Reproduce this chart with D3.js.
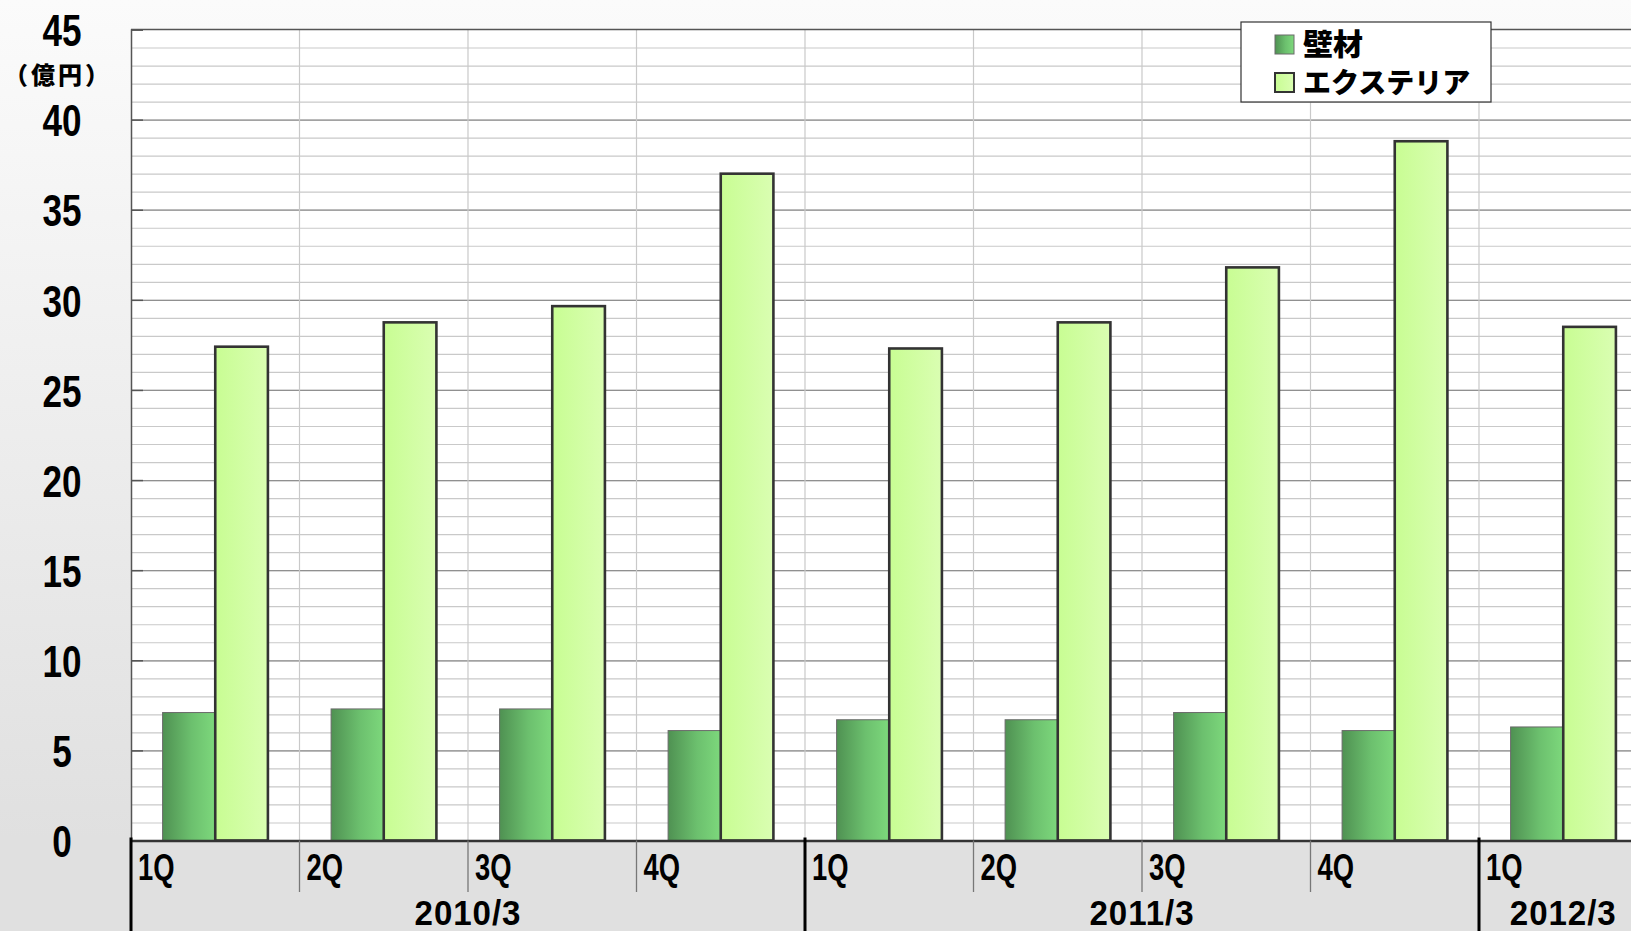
<!DOCTYPE html>
<html>
<head>
<meta charset="utf-8">
<script src="https://cdn.jsdelivr.net/npm/d3@7"></script>
<style>
  body { margin: 0; padding: 0; overflow: hidden; }
  .num { font-family: "Liberation Sans", Arial, sans-serif; font-weight: bold; }
  .jp { font-family: "Noto Sans CJK JP", sans-serif; font-weight: 900; }
</style>
</head>
<body>
<svg id="chart" width="1631" height="931"></svg>
<script>
// quarters along the bottom, one per bar pair
const quarters = ["1Q", "2Q", "3Q", "4Q", "1Q", "2Q", "3Q", "4Q", "1Q"];
const yearLabels = ["2010/3", "2011/3", "2012/3"];
const yearOfQuarter = [0, 0, 0, 0, 1, 1, 1, 1, 2];
const seriesNames = ["壁材", "エクステリア"];
const wallValues = [7.1, 7.3, 7.3, 6.1, 6.7, 6.7, 7.1, 6.1, 6.3];
const exteriorValues = [27.4, 28.75, 29.65, 37.0, 27.3, 28.75, 31.8, 38.8, 28.5];
const yTicks = [0, 5, 10, 15, 20, 25, 30, 35, 40, 45];

let svg = d3.select("#chart");
let W = 1631, H = 931;
let plotLeft = 131, plotTop = 29.5, plotBottom = 840.5;
let catW = 168.5;
let plotW = catW * quarters.length;

// squeeze text horizontally, the original uses a condensed gothic face
function condense(sel, sx) {
    sel.each(function () {
        let t = d3.select(this);
        let tx = +t.attr("x") || 0, ty = +t.attr("y") || 0;
        t.attr("x", 0).attr("y", 0)
            .attr("transform", "translate(" + tx + "," + ty + ") scale(" + sx + ",1)");
    });
}

let defs = svg.append("defs");
let bg = defs.append("linearGradient").attr("id", "bg").attr("x1", 0).attr("y1", 0).attr("x2", 0).attr("y2", 1);
bg.append("stop").attr("offset", "0%").attr("stop-color", "#fbfbfb");
bg.append("stop").attr("offset", "90%").attr("stop-color", "#e0e0e0");
bg.append("stop").attr("offset", "100%").attr("stop-color", "#e0e0e0");

let g1 = defs.append("linearGradient").attr("id", "wall").attr("x1", 0).attr("y1", 0).attr("x2", 1).attr("y2", 0);
g1.append("stop").attr("offset", "0%").attr("stop-color", "#4f9152");
g1.append("stop").attr("offset", "55%").attr("stop-color", "#6cc06e");
g1.append("stop").attr("offset", "100%").attr("stop-color", "#7dd87c");

let g2 = defs.append("linearGradient").attr("id", "ext").attr("x1", 0).attr("y1", 0).attr("x2", 1).attr("y2", 0);
g2.append("stop").attr("offset", "0%").attr("stop-color", "#c8fd93");
g2.append("stop").attr("offset", "100%").attr("stop-color", "#dafeb2");

svg.append("rect").attr("width", W).attr("height", H).attr("fill", "url(#bg)");

let x = d3.scaleBand()
    .domain(d3.range(quarters.length))
    .range([plotLeft, plotLeft + plotW]);

let x1 = d3.scaleBand()
    .domain(seriesNames)
    .range([0, x.bandwidth()])
    .paddingOuter(0.6);

let y = d3.scaleLinear()
    .domain([0, 45])
    .range([plotBottom, plotTop]);

// plot area
svg.append("rect")
    .attr("x", plotLeft).attr("y", plotTop)
    .attr("width", plotW).attr("height", plotBottom - plotTop)
    .attr("fill", "white");

// minor grid every 1
svg.append("g")
    .attr("transform", "translate(" + plotLeft + ",0)")
    .call(d3.axisLeft(y).tickValues(d3.range(1, 45, 1)).tickSize(-plotW).tickFormat(""))
    .call(g => g.select(".domain").remove())
    .call(g => g.selectAll("line").attr("stroke", "#c9c9c9").attr("stroke-width", 1.2));

// major grid every 5
svg.append("g")
    .attr("transform", "translate(" + plotLeft + ",0)")
    .call(d3.axisLeft(y).tickValues(yTicks.slice(1, -1)).tickSize(-plotW).tickFormat(""))
    .call(g => g.select(".domain").remove())
    .call(g => g.selectAll("line").attr("stroke", "#909090").attr("stroke-width", 1.2));

// vertical grid at quarter boundaries
svg.append("g")
    .selectAll("line")
    .data(d3.range(1, quarters.length))
    .join("line")
    .attr("x1", d => x(d)).attr("x2", d => x(d))
    .attr("y1", plotTop).attr("y2", plotBottom)
    .attr("stroke", "#c9c9c9").attr("stroke-width", 1.2);

// bars
let barData = [];
quarters.forEach((q, i) => {
    barData.push({i: i, s: seriesNames[0], v: wallValues[i]});
    barData.push({i: i, s: seriesNames[1], v: exteriorValues[i]});
});

svg.append("g")
    .selectAll("rect")
    .data(barData)
    .join("rect")
    .attr("x", d => x(d.i) + x1(d.s))
    .attr("y", d => y(d.v))
    .attr("width", x1.bandwidth())
    .attr("height", d => y(0) - y(d.v))
    .attr("fill", d => d.s == seriesNames[0] ? "url(#wall)" : "url(#ext)")
    .attr("stroke", d => d.s == seriesNames[0] ? "#6a6a6a" : "#333")
    .attr("stroke-width", d => d.s == seriesNames[0] ? 1 : 2.6);

// top border
svg.append("line")
    .attr("x1", plotLeft).attr("x2", plotLeft + plotW)
    .attr("y1", plotTop).attr("y2", plotTop)
    .attr("stroke", "#555").attr("stroke-width", 1.5);

// y axis with inward ticks
let yAxis = svg.append("g")
    .attr("class", "num")
    .attr("transform", "translate(" + plotLeft + ",0)")
    .call(d3.axisLeft(y).tickValues(yTicks).tickSize(-12).tickPadding(0));
yAxis.select(".domain").attr("stroke", "#555").attr("stroke-width", 1.5);
yAxis.selectAll("line").attr("stroke", "#555").attr("stroke-width", 1.5);
yAxis.selectAll("text")
    .attr("x", -69)
    .attr("y", 0)
    .attr("dy", "0.36em")
    .attr("text-anchor", "middle")
    .attr("fill", "#000")
    .attr("font-size", 45)
    .call(condense, 0.78);

svg.append("text")
    .attr("class", "jp")
    .attr("x", 58).attr("y", 84)
    .attr("text-anchor", "middle")
    .attr("font-size", 24)
    .attr("letter-spacing", 3)
    .text("（億円）");

// x axis
let xAxis = svg.append("g")
    .attr("class", "num")
    .attr("transform", "translate(0," + plotBottom + ")")
    .call(d3.axisBottom(x).tickSize(0).tickFormat(i => quarters[i]));
xAxis.select(".domain").attr("stroke", "#333").attr("stroke-width", 2.5);
xAxis.selectAll("text")
    .attr("x", -x.bandwidth() / 2 + 7)
    .attr("y", 39)
    .attr("dy", 0)
    .attr("text-anchor", "start")
    .attr("fill", "#000")
    .attr("font-size", 37)
    .call(condense, 0.74);

// separators below the axis
let yearStarts = d3.range(quarters.length).filter(i => i == 0 || yearOfQuarter[i] != yearOfQuarter[i - 1]);
svg.append("g")
    .selectAll("line")
    .data(d3.range(quarters.length).filter(i => yearStarts.indexOf(i) < 0))
    .join("line")
    .attr("x1", i => x(i)).attr("x2", i => x(i))
    .attr("y1", plotBottom).attr("y2", 892)
    .attr("stroke", "#777").attr("stroke-width", 1.3);

svg.append("g")
    .selectAll("line")
    .data(yearStarts)
    .join("line")
    .attr("x1", i => x(i)).attr("x2", i => x(i))
    .attr("y1", plotBottom - 3).attr("y2", H)
    .attr("stroke", "#000").attr("stroke-width", 3);

svg.append("g")
    .attr("class", "num")
    .selectAll("text")
    .data(yearLabels)
    .join("text")
    .attr("x", (d, k) => {
        let idx = d3.range(quarters.length).filter(i => yearOfQuarter[i] == k);
        return (x(idx[0]) + x(idx[idx.length - 1]) + x.bandwidth()) / 2;
    })
    .attr("y", 925)
    .attr("text-anchor", "middle")
    .attr("font-size", 36)
    .attr("letter-spacing", 1)
    .text(d => d)
    .call(condense, 0.92);

// legend
let legend = svg.append("g").attr("transform", "translate(1241,22)");
legend.append("rect")
    .attr("width", 250).attr("height", 80)
    .attr("fill", "white").attr("stroke", "#333").attr("stroke-width", 1.2);

let items = legend.selectAll("g.item")
    .data(seriesNames)
    .join("g")
    .attr("class", "item")
    .attr("transform", (d, i) => "translate(34," + (13 + i * 38) + ")");
items.append("rect")
    .attr("width", 19).attr("height", 19)
    .attr("fill", (d, i) => i == 0 ? "url(#wall)" : "url(#ext)")
    .attr("stroke", (d, i) => i == 0 ? "#6a6a6a" : "#333")
    .attr("stroke-width", (d, i) => i == 0 ? 1 : 2);
items.append("text")
    .attr("class", "jp")
    .attr("x", 28).attr("y", 20)
    .attr("font-size", (d, i) => i == 0 ? 30 : 28)
    .text(d => d);
</script>
</body>
</html>
